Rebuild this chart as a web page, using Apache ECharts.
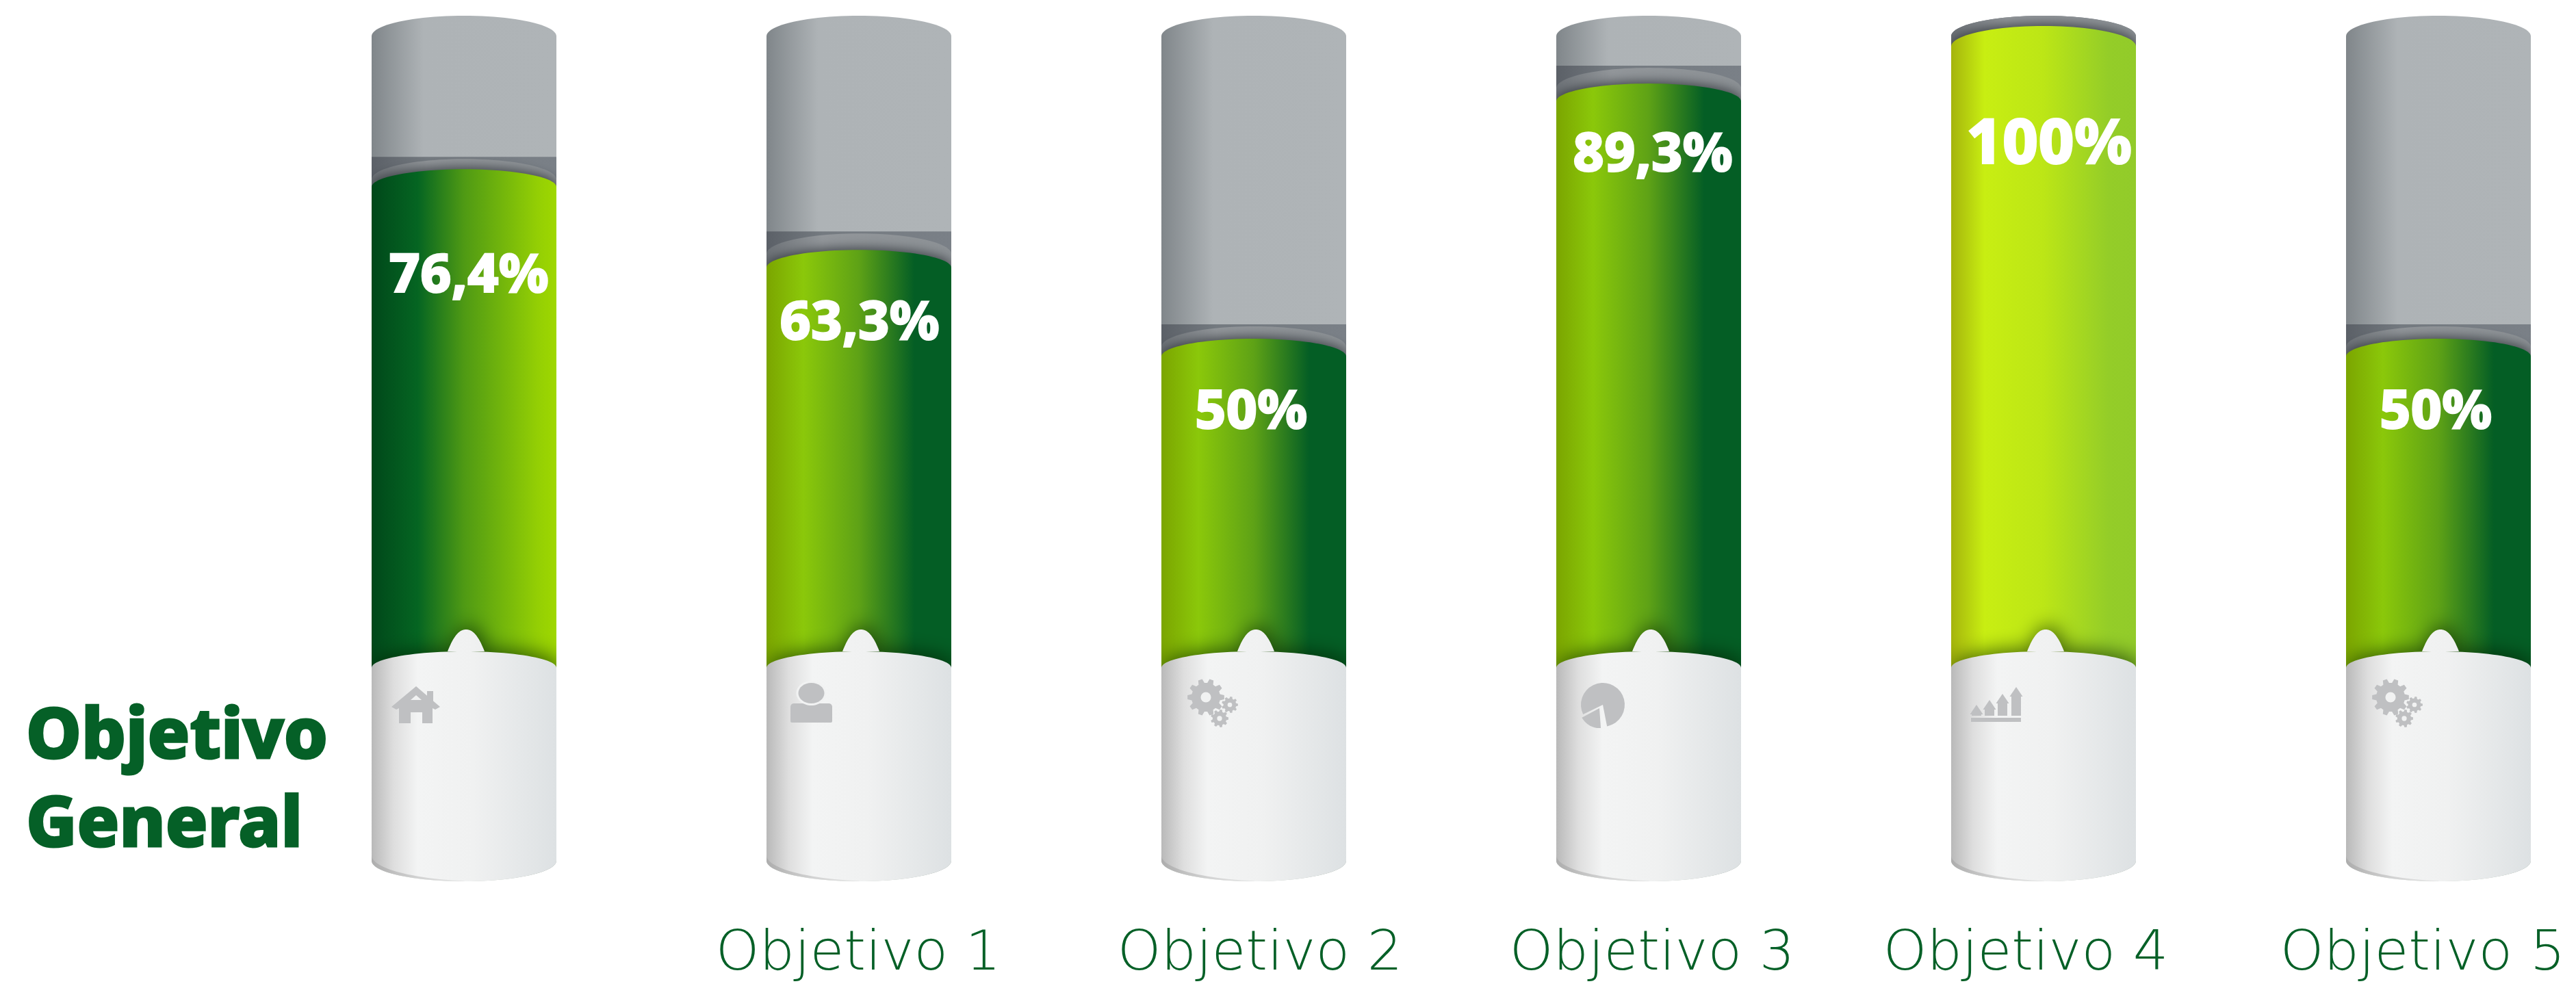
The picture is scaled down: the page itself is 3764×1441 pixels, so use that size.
<!DOCTYPE html>
<html>
<head>
<meta charset="utf-8">
<title>Objetivos</title>
<script src="https://cdn.jsdelivr.net/npm/echarts@6/dist/echarts.min.js"></script>
<style>
  html, body { margin: 0; padding: 0; background: #fff; }
  #chart { width: 3764px; height: 1441px; }
</style>
</head>
<body>
<div id="chart"></div>
<script>
const categories = ['Objetivo General', 'Objetivo 1', 'Objetivo 2', 'Objetivo 3', 'Objetivo 4', 'Objetivo 5']
// height of the green fill as drawn in the picture (the printed figures are in valueLabels)
const fillLevels = [77.1, 64.2, 50, 90.8, 100, 50]
const valueLabels = ['76,4%', '63,3%', '50%', '89,3%', '100%', '50%']
const icons = ['home', 'person', 'gears', 'pie', 'arrows', 'gears']

// layout tweaks, not data
const labelShift = [
  { x: 7, y: 157 }, { x: 1, y: 108 }, { x: -4, y: 108 },
  { x: 6, y: 105 }, { x: 8, y: 175 }, { x: -4, y: 108 }
]
const nameShift = [0, -1, 9, 5, -26, -23]
const bandGap = [18, 27, 21, 26, 24, 21]

const GREEN_TEXT = '#056027'
const ICON_GREY = '#bfc0c2'
const ICON_BG = '#f1f2f2'
const BOLD_FONT = '"Noto Sans", sans-serif'

const hGrad = (stops) => ({
  type: 'linear', x: 0, y: 0, x2: 1, y2: 0,
  colorStops: stops.map(([offset, color]) => ({ offset, color }))
})

const darkLeft = hGrad([[0, '#00481a'], [0.25, '#056522'], [0.5, '#4f9a14'], [0.9, '#94cf04'], [1, '#9fd800']])
const darkRight = hGrad([[0, '#7ba500'], [0.2, '#8bc80a'], [0.5, '#5ea216'], [0.8, '#045e25'], [1, '#045e25']])
const fillStyles = [
  darkLeft, darkRight, darkRight, darkRight,
  hGrad([[0, '#a5b40c'], [0.18, '#c8ee12'], [0.5, '#bce616'], [0.85, '#94cd28'], [1, '#92cb2a']]),
  darkRight
]
const capStyle = hGrad([[0, '#80868a'], [0.28, '#aeb3b6'], [1, '#afb4b7']])
const bandStyle = hGrad([[0, '#5b6067'], [0.3, '#747a80'], [1, '#7a8087']])
const rimStyle = hGrad([[0, '#6d7277'], [0.3, '#92969a'], [1, '#8c9195']])
const whiteStyle = hGrad([[0, '#b9b9b9'], [0.12, '#dedede'], [0.25, '#f3f4f4'], [0.55, '#f0f1f1'], [1, '#dde1e3']])

// points along an ellipse, angles in degrees
function arc(cx, cy, rx, ry, from, to, steps = 48) {
  const pts = []
  for (let k = 0; k <= steps; k++) {
    const a = ((from + (to - from) * k / steps) * Math.PI) / 180
    pts.push([cx + rx * Math.cos(a), cy + ry * Math.sin(a)])
  }
  return pts
}

function dome(cx, apex, half, ry, bottom) {
  return [...arc(cx, apex + ry, half, ry, 180, 360), [cx + half, bottom], [cx - half, bottom]]
}

// the small bell on top of the white base
function bell(cx, baseY, w, h) {
  const pts = []
  for (let k = 0; k <= 40; k++) {
    const s = -1 + k / 20
    pts.push([cx + s * w, baseY - h * (1 - Math.pow(Math.abs(s), 2.2))])
  }
  return pts
}

function gearPoints(cx, cy, r, teeth) {
  const pts = []
  const step = (Math.PI * 2) / teeth
  for (let k = 0; k < teeth; k++) {
    const a = k * step
    pts.push([cx + r * 0.78 * Math.cos(a - step * 0.34), cy + r * 0.78 * Math.sin(a - step * 0.34)])
    pts.push([cx + r * Math.cos(a - step * 0.18), cy + r * Math.sin(a - step * 0.18)])
    pts.push([cx + r * Math.cos(a + step * 0.18), cy + r * Math.sin(a + step * 0.18)])
    pts.push([cx + r * 0.78 * Math.cos(a + step * 0.34), cy + r * 0.78 * Math.sin(a + step * 0.34)])
  }
  return pts
}

const poly = (points, fill) => ({ type: 'polygon', shape: { points }, style: { fill } })
const box = (x, y, width, height, fill) => ({ type: 'rect', shape: { x, y, width, height }, style: { fill } })
const disc = (cx, cy, r, fill) => ({ type: 'circle', shape: { cx, cy, r }, style: { fill } })
const oval = (cx, cy, rx, ry, fill) => ({ type: 'ellipse', shape: { cx, cy, rx, ry }, style: { fill } })

function gear(cx, cy, r, teeth) {
  return [poly(gearPoints(cx, cy, r, teeth), ICON_GREY), disc(cx, cy, r * 0.28, ICON_BG)]
}

// x is the left edge of the icon, y its top
function drawIcon(kind, x, y) {
  if (kind === 'home') {
    return [
      box(x + 52, y + 7, 9, 24, ICON_GREY),
      poly([[x, y + 30], [x + 36, y], [x + 71, y + 30], [x + 64, y + 34], [x + 60, y + 32], [x + 60, y + 54],
        [x + 45, y + 54], [x + 45, y + 38], [x + 28, y + 38], [x + 28, y + 54], [x + 11, y + 54], [x + 11, y + 32], [x + 7, y + 34]], ICON_GREY),
      poly([[x + 28, y + 20], [x + 36, y + 13], [x + 44, y + 20]], ICON_BG)
    ]
  }
  if (kind === 'person') {
    return [
      { type: 'rect', shape: { x: x, y: y + 30, width: 61, height: 28, r: [5, 5, 2, 2] }, style: { fill: ICON_GREY } },
      oval(x + 30.5, y + 15, 22, 18, ICON_BG),
      oval(x + 30.5, y + 15, 19, 15, ICON_GREY)
    ]
  }
  if (kind === 'gears') {
    return [...gear(x + 27, y + 22, 27, 10), ...gear(x + 62, y + 33, 12, 9), ...gear(x + 47, y + 53, 13, 9)]
  }
  if (kind === 'pie') {
    const cx = x + 31
    const cy = y + 27
    return [
      { type: 'sector', shape: { cx, cy, r: 32, startAngle: 2.69, endAngle: 7.66, clockwise: true }, style: { fill: ICON_GREY } },
      { type: 'sector', shape: { cx: cx - 5, cy: cy + 5, r: 29, startAngle: 1.5, endAngle: 2.65, clockwise: true }, style: { fill: ICON_GREY } }
    ]
  }
  // arrows
  const arrows = [{ dx: 8, top: 26 }, { dx: 27, top: 19 }, { dx: 46, top: 10 }, { dx: 66, top: 0 }]
  const out = [box(x, y + 45, 73, 6, ICON_GREY)]
  arrows.forEach(({ dx, top }) => {
    out.push(poly([[x + dx, y + top], [x + dx + 9.5, y + top + 14], [x + dx - 9.5, y + top + 14]], ICON_GREY))
    out.push(box(x + dx - 7, y + top + 14, 14, 42 - top - 14, ICON_GREY))
  })
  return out
}

const TOP_OFFSET = 15      // cylinder apex above the 100 level
const BOTTOM_OFFSET = 336  // cylinder lowest point below the 0 level
const BODY_WIDTH = 270

function renderCylinder(params, api) {
  const i = params.dataIndex
  const [cx, levelY] = api.coord([api.value(0), api.value(1)])
  const [, zeroY] = api.coord([0, 0])
  const [, fullY] = api.coord([0, 100])
  const half = BODY_WIDTH / 2
  const left = cx - half
  const topY = fullY - TOP_OFFSET
  const botY = zeroY + BOTTOM_OFFSET
  const gap = bandGap[i]

  const outline = [...arc(cx, topY + 30, half, 30, 180, 360), ...arc(cx, botY - 30, half, 30, 0, 180)]

  const whiteTop = [
    ...arc(cx, zeroY + 24, half, 24, 180, 266, 24),
    ...bell(cx + 3, zeroY, 27, 32),
    ...arc(cx, zeroY + 24, half, 24, 274, 360, 24),
    [cx + half, botY], [cx - half, botY]
  ]

  const crescent = [
    ...arc(cx, botY - 30, half, 30, 90, 180, 24),
    ...arc(cx + 30, botY - 38, half + 30, 38, 180, 100, 24)
  ]

  const body = {
    type: 'group',
    clipPath: { type: 'polygon', shape: { points: outline } },
    children: [
      box(left, topY, BODY_WIDTH, levelY - gap - topY + 2, capStyle),
      box(left, levelY - gap, BODY_WIDTH, gap + 60, bandStyle),
      { type: 'polygon', shape: { points: dome(cx, levelY - gap + 3, half, 30, levelY + 40) }, style: { fill: rimStyle } },
      {
        type: 'polygon',
        shape: { points: dome(cx, levelY, half, i === 4 ? 30 : 26, zeroY + 40) },
        style: { fill: fillStyles[i], shadowBlur: 16, shadowColor: 'rgba(45,50,55,0.8)', shadowOffsetY: -3 }
      },
      {
        type: 'polygon',
        shape: { points: whiteTop },
        style: { fill: whiteStyle, shadowBlur: 28, shadowColor: 'rgba(0,30,0,0.6)', shadowOffsetX: 4, shadowOffsetY: -5 }
      },
      {
        type: 'polygon',
        shape: { points: crescent },
        style: { fill: hGrad([[0, 'rgba(170,170,170,0.8)'], [1, 'rgba(215,215,215,0.5)']]) }
      }
    ]
  }

  const iconLeft = { home: -106, person: -100, gears: -97, pie: -98, arrows: -106 }[icons[i]]
  const iconTop = { home: 1003, person: 998, gears: 997, pie: 1003, arrows: 1004 }[icons[i]] - 952 + zeroY

  const kids = [
    body,
    ...drawIcon(icons[i], cx + iconLeft, iconTop),
    {
      type: 'text',
      style: {
        text: valueLabels[i],
        x: cx + labelShift[i].x,
        y: levelY + labelShift[i].y,
        textAlign: 'center',
        textVerticalAlign: 'middle',
        fill: '#fff',
        stroke: '#fff',
        lineWidth: 2,
        lineJoin: 'round',
        font: `800 ${i === 4 ? 91 : 79}px ${BOLD_FONT}`
      }
    }
  ]

  if (i === 0) {
    kids.push({
      type: 'text',
      style: {
        text: categories[0].replace(' ', '\n'),
        x: 38,
        y: zeroY + 62,
        textAlign: 'left',
        textVerticalAlign: 'top',
        fill: GREEN_TEXT,
        stroke: GREEN_TEXT,
        lineWidth: 3,
        lineJoin: 'round',
        lineHeight: 129,
        font: `800 102px ${BOLD_FONT}`
      }
    })
  } else {
    kids.push({
      type: 'text',
      style: {
        text: categories[i],
        x: cx + nameShift[i],
        y: zeroY + 444,
        textAlign: 'center',
        textVerticalAlign: 'middle',
        fill: GREEN_TEXT,
        font: '200 81px "DejaVu Sans", sans-serif'
      }
    })
  }

  return { type: 'group', children: kids }
}

const chart = echarts.init(document.getElementById('chart'))

chart.setOption({
  backgroundColor: '#fff',
  animation: false,
  grid: { left: 678, right: 201, top: 38, bottom: 489 },
  xAxis: {
    type: 'category',
    data: categories,
    boundaryGap: false,
    axisLine: { show: false },
    axisTick: { show: false },
    axisLabel: { show: false },
    splitLine: { show: false }
  },
  yAxis: {
    type: 'value',
    min: 0,
    max: 100,
    show: false
  },
  series: [
    {
      type: 'custom',
      coordinateSystem: 'cartesian2d',
      clip: false,
      silent: true,
      encode: { x: 0, y: 1 },
      data: fillLevels.map((v, i) => [i, v]),
      renderItem: renderCylinder
    }
  ]
})
</script>
</body>
</html>
